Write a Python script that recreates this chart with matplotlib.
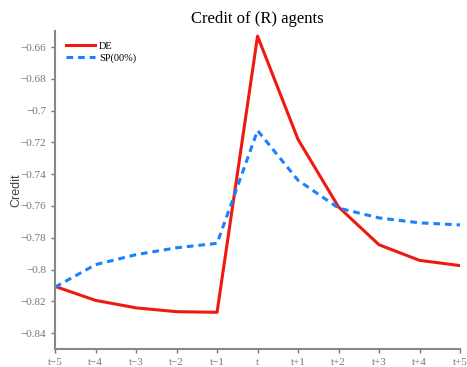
import matplotlib
matplotlib.use("Agg")
import matplotlib.pyplot as plt

# data
periods = ["t\u22125", "t\u22124", "t\u22123", "t\u22122", "t\u22121", "t",
           "t+1", "t+2", "t+3", "t+4", "t+5"]
de = [-0.8106, -0.8194, -0.8241, -0.8265, -0.8269, -0.6531,
      -0.7181, -0.7606, -0.7844, -0.7942, -0.7975]
sp = [-0.8110, -0.7969, -0.7906, -0.7863, -0.7835, -0.7125,
      -0.7438, -0.7613, -0.7675, -0.7706, -0.7719]
yticks = [-0.84, -0.82, -0.8, -0.78, -0.76, -0.74, -0.72, -0.7, -0.68, -0.66]

fig = plt.figure(figsize=(4.67, 3.67), dpi=100)
ax = fig.add_axes([0.118, 0.049, 0.867, 0.866])

x = list(range(len(periods)))
ax.plot(x, de, color="#f0190f", lw=2.2, label="DE")
ax.plot(x, sp, color="#1a82ff", lw=2.2, ls=(0, (2.2, 1.6)), label="SP(00%)")

ax.set_xlim(0, len(periods) - 1)
ax.set_ylim(-0.85, -0.65)
ax.set_xticks(x)
ax.set_xticklabels(periods)
ax.set_yticks(yticks)
ax.set_yticklabels([("\u2212" + f"{abs(v):g}") for v in yticks])

for s in ["top", "right"]:
    ax.spines[s].set_visible(False)
for s in ["left", "bottom"]:
    ax.spines[s].set_color("#888888")
    ax.spines[s].set_linewidth(1.5)
ax.tick_params(colors="#777777", labelsize=8, direction="out", length=3, width=1)
for lab in ax.get_xticklabels() + ax.get_yticklabels():
    lab.set_family("Liberation Serif")

ax.set_ylabel("Credit", fontsize=9, family="Liberation Sans", color="#444444")
ax.yaxis.set_label_coords(-0.082, 0.5)
ax.set_title("Credit of (R) agents", fontsize=12, family="Liberation Serif", pad=6)

leg = ax.legend(loc="upper left", frameon=False, prop={"family": "Liberation Serif", "size": 7.5},
                handlelength=2.8, borderaxespad=0.6, labelspacing=0.2, handletextpad=0.4)

fig.savefig("out.png", dpi=100)
